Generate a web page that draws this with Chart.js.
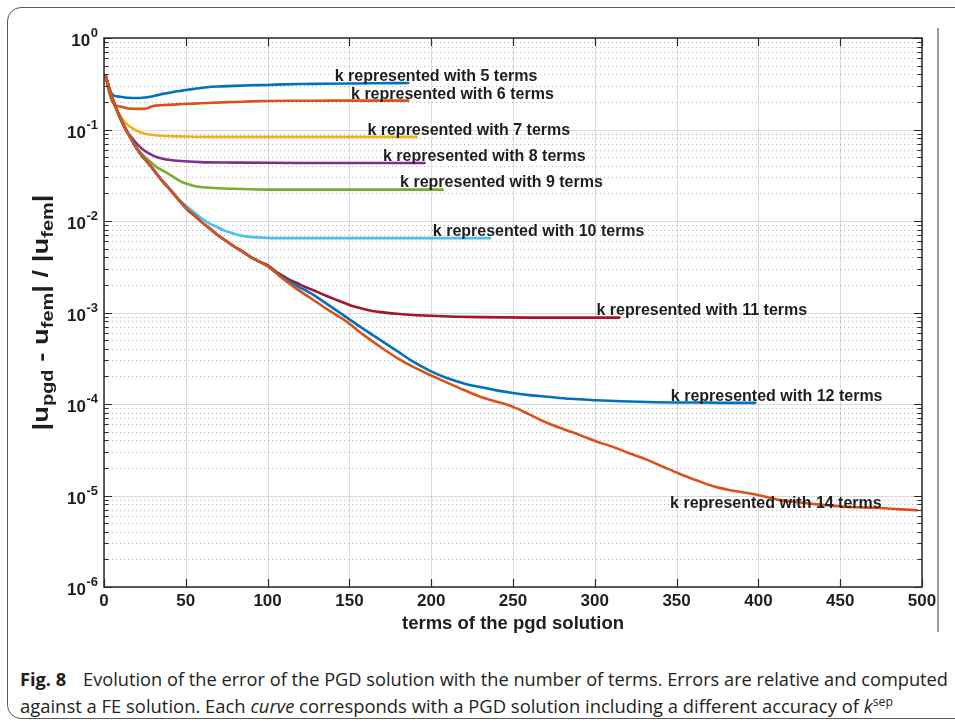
<!DOCTYPE html>
<html>
<head>
<meta charset="utf-8">
<script src="https://cdn.jsdelivr.net/npm/chart.js@4.4.1/dist/chart.umd.min.js"></script>
<style>
html,body{margin:0;padding:0;background:#fff;}
body{width:955px;height:727px;position:relative;overflow:hidden;}
#card{position:absolute;left:7px;top:7px;width:975px;height:712px;border:1.5px solid #5a5a5a;border-radius:14px;box-sizing:border-box;}
#wrap{position:absolute;left:0;top:0;width:955px;height:640px;}
#vline{position:absolute;left:937px;top:28px;width:1.5px;height:604px;background:#9a9a9a;}
.cap{position:absolute;left:20px;white-space:nowrap;display:inline-block;transform-origin:0 50%;font-family:"Open Sans","Noto Sans",sans-serif;font-size:18px;line-height:26px;color:#231f20;}
.cap b{font-weight:700;margin-right:12px;}
.cap sup{font-size:12px;line-height:0;vertical-align:7px;}
</style>
</head>
<body>
<div id="card"></div>
<div id="vline"></div>
<div id="wrap"><canvas id="c" width="955" height="640"></canvas></div>
<div class="cap" id="cap1" data-w="928" style="top:666px;"><b>Fig. 8</b> Evolution of the error of the PGD solution with the number of terms. Errors are relative and computed</div>
<div class="cap" id="cap2" data-w="873" style="top:693px;">against a FE solution. Each <i>curve</i> corresponds with a PGD solution including a different accuracy of <i>k</i><sup>sep</sup></div>
<script>
// ---------------- data ----------------
const termsTicks = [0, 50, 100, 150, 200, 250, 300, 350, 400, 450, 500];
const decadeExponents = [0, -1, -2, -3, -4, -5, -6];
const termCounts = [5, 6, 7, 8, 9, 10, 11, 12, 14];

const terms5 = [1, 3, 5.5, 10, 15, 20, 25, 28, 32, 36, 42, 48, 55, 63, 72, 80, 90, 100, 110, 120, 135, 150, 165, 186];
const error5 = [0.385, 0.29, 0.238, 0.228, 0.222, 0.221, 0.224, 0.228, 0.236, 0.245, 0.256, 0.266, 0.278, 0.29, 0.296, 0.30, 0.304, 0.307, 0.311, 0.314, 0.316, 0.318, 0.32, 0.322];

const terms6 = [1, 3, 5.5, 10, 15, 20, 25, 28, 30, 35, 42, 48, 55, 63, 72, 80, 90, 100, 120, 140, 160, 186];
const error6 = [0.385, 0.26, 0.195, 0.178, 0.17, 0.168, 0.168, 0.175, 0.181, 0.184, 0.187, 0.19, 0.192, 0.195, 0.198, 0.2, 0.203, 0.205, 0.206, 0.207, 0.207, 0.207];

const terms7 = [1, 3, 5.5, 8, 10, 13, 16, 20, 24, 30, 38, 48, 65, 100, 150, 191];
const error7 = [0.385, 0.29, 0.21, 0.165, 0.14, 0.119, 0.107, 0.097, 0.091, 0.087, 0.085, 0.084, 0.083, 0.083, 0.083, 0.083];

const terms8 = [1, 3, 5.5, 8, 11, 14, 18, 21, 24, 28, 32, 38, 45, 59, 80, 120, 160, 196];
const error8 = [0.385, 0.29, 0.21, 0.16, 0.122, 0.096, 0.077, 0.067, 0.060, 0.054, 0.050, 0.047, 0.0455, 0.044, 0.0435, 0.043, 0.043, 0.043];

const terms9 = [1, 3, 5.5, 8, 11, 14, 16, 18, 20, 22, 24, 26, 28, 32, 38.5, 44, 48, 54, 59, 70, 79, 100, 150, 207];
const error9 = [0.385, 0.29, 0.21, 0.16, 0.121, 0.095, 0.083, 0.071, 0.062, 0.057, 0.052, 0.048, 0.045, 0.039, 0.0335, 0.029, 0.0265, 0.0245, 0.0235, 0.0228, 0.0225, 0.022, 0.022, 0.022];

const terms10 = [1, 3, 5.5, 8, 11, 14, 16, 18, 20, 23, 26, 29, 32, 36, 40, 44, 48, 52, 56, 59, 64, 69, 74, 79, 84, 89, 95, 105, 120, 160, 200, 236];
const error10 = [0.385, 0.29, 0.21, 0.16, 0.121, 0.095, 0.083, 0.071, 0.062, 0.052, 0.045, 0.039, 0.033, 0.027, 0.0225, 0.0186, 0.0158, 0.0138, 0.0121, 0.0109, 0.0095, 0.0086, 0.0078, 0.0073, 0.0069, 0.0067, 0.0066, 0.0065, 0.0065, 0.0065, 0.0065, 0.0065];

const terms11 = [1, 3, 5.5, 8, 11, 14, 16, 18, 20, 23, 26, 29, 32, 36, 40, 44, 48, 52, 56, 60, 65, 70, 75, 80, 85, 90, 95, 100, 104, 108, 113, 118, 123, 128, 133, 138, 143, 148.5, 153, 158, 164, 169, 179, 189, 200, 215, 230, 260, 290, 315];
const error11 = [0.385, 0.29, 0.21, 0.16, 0.121, 0.095, 0.083, 0.071, 0.062, 0.052, 0.045, 0.039, 0.033, 0.027, 0.0225, 0.0185, 0.0152, 0.0128, 0.0112, 0.0096, 0.0082, 0.0069, 0.0060, 0.0052, 0.0046, 0.0040, 0.0036, 0.0033, 0.0029, 0.0026, 0.0023, 0.0021, 0.0019, 0.00175, 0.0016, 0.00147, 0.00135, 0.00124, 0.00116, 0.0011, 0.00104, 0.00101, 0.00097, 0.00094, 0.00092, 0.0009, 0.00089, 0.00088, 0.00088, 0.00088];

const terms12 = [1, 3, 5.5, 8, 11, 14, 16, 18, 20, 23, 26, 29, 32, 36, 40, 44, 48, 52, 56, 60, 65, 70, 75, 80, 85, 90, 95, 100, 108, 118, 128, 138, 148.5, 158, 169, 179, 189, 199, 209.6, 220, 230, 240, 250, 260, 271, 285, 301, 316, 332, 348, 364, 380, 398];
const error12 = [0.385, 0.29, 0.21, 0.16, 0.121, 0.095, 0.083, 0.071, 0.062, 0.052, 0.045, 0.039, 0.033, 0.027, 0.0225, 0.0185, 0.0152, 0.0128, 0.0112, 0.0096, 0.0082, 0.0069, 0.0060, 0.0052, 0.0046, 0.0040, 0.0036, 0.0032, 0.00252, 0.00196, 0.00156, 0.00118, 0.00088, 0.00067, 0.0005, 0.00038, 0.00029, 0.000232, 0.000192, 0.000168, 0.000153, 0.000141, 0.000132, 0.000125, 0.00012, 0.000114, 0.00011, 0.000107, 0.000105, 0.000104, 0.000104, 0.000103, 0.000103];

const terms14 = [1, 3, 5.5, 8, 11, 14, 16, 18, 20, 23, 26, 29, 32, 36, 40, 44, 48, 52, 56, 60, 65, 70, 75, 80, 85, 90, 95, 100, 108, 118, 128, 138, 148.5, 158, 169, 179, 189, 200, 210, 220, 230, 240, 250, 260, 271, 281, 291, 301, 311, 321, 332, 342, 352, 362, 372, 382, 392, 401, 413, 423, 433, 443, 454, 464, 474, 485, 497];
const error14 = [0.385, 0.29, 0.21, 0.16, 0.121, 0.095, 0.083, 0.071, 0.062, 0.052, 0.045, 0.039, 0.033, 0.027, 0.0225, 0.0185, 0.0152, 0.0128, 0.0112, 0.0096, 0.0082, 0.0069, 0.0060, 0.0052, 0.0046, 0.0040, 0.0036, 0.0032, 0.00245, 0.0018, 0.00137, 0.00104, 0.00079, 0.00058, 0.00042, 0.00032, 0.000254, 0.000205, 0.00017, 0.000142, 0.00012, 0.000106, 0.000093, 0.000077, 0.000062, 0.000053, 0.0000457, 0.000039, 0.000034, 0.000029, 0.0000245, 0.0000205, 0.0000172, 0.0000147, 0.0000127, 0.0000115, 0.0000107, 0.00001, 0.0000089, 0.0000085, 0.0000081, 0.0000078, 0.0000075, 0.0000074, 0.0000073, 0.0000071, 0.0000069];

// label anchors (data coordinates: terms, error)
const labelTerms = [141, 151, 161, 170.5, 181, 201, 301, 346.5, 346];
const labelError = [0.375, 0.238, 0.0964, 0.050, 0.026, 0.0076, 0.00104, 0.000122, 0.0000081];

// ---------------- styles ----------------
const seriesColors = ['#0072BD', '#D95319', '#EDB120', '#7E2F8E', '#77AC30', '#4DBEEE', '#A2142F', '#0072BD', '#D95319'];
const allTerms = [terms5, terms6, terms7, terms8, terms9, terms10, terms11, terms12, terms14];
const allErrors = [error5, error6, error7, error8, error9, error10, error11, error12, error14];

const FONT = '"Liberation Sans", Arial, Helvetica, sans-serif';
const INK = '#1e1e1e';

const datasets = termCounts.map((n, i) => ({
  label: 'k represented with ' + n + ' terms',
  data: allTerms[i].map((t, j) => ({x: t, y: allErrors[i][j]})),
  borderColor: seriesColors[i],
  backgroundColor: seriesColors[i],
  borderWidth: 2.6,
  pointRadius: 0,
  fill: false,
  cubicInterpolationMode: 'monotone',
  borderCapStyle: 'round',
  borderJoinStyle: 'round',
  order: termCounts.length - 1 - i
}));

const axesDecor = {
  id: 'axesDecor',
  beforeDatasetsDraw(chart) {
    const {ctx, chartArea: a} = chart;
    const xs = chart.scales.x, ys = chart.scales.y;
    ctx.save();
    // minor dotted grid
    ctx.lineWidth = 1;
    ctx.strokeStyle = 'rgba(40,40,40,0.33)';
    ctx.setLineDash([1, 3]);
    for (let d = -6; d <= -1; d++) {
      for (let k = 2; k <= 9; k++) {
        const py = Math.round(ys.getPixelForValue(k * Math.pow(10, d))) + 0.5;
        ctx.beginPath(); ctx.moveTo(a.left, py); ctx.lineTo(a.right, py); ctx.stroke();
      }
    }
    // major solid grid
    ctx.setLineDash([]);
    ctx.strokeStyle = 'rgba(38,38,38,0.16)';
    decadeExponents.forEach(e => {
      const py = Math.round(ys.getPixelForValue(Math.pow(10, e))) + 0.5;
      ctx.beginPath(); ctx.moveTo(a.left, py); ctx.lineTo(a.right, py); ctx.stroke();
    });
    termsTicks.forEach(t => {
      const px = Math.round(xs.getPixelForValue(t)) + 0.5;
      ctx.beginPath(); ctx.moveTo(px, a.top); ctx.lineTo(px, a.bottom); ctx.stroke();
    });
    ctx.restore();
  },
  afterDatasetsDraw(chart) {
    const {ctx, chartArea: a} = chart;
    const xs = chart.scales.x, ys = chart.scales.y;
    ctx.save();
    // box
    ctx.strokeStyle = '#2a2a2a';
    ctx.lineWidth = 1.5;
    ctx.strokeRect(a.left, a.top, a.right - a.left, a.bottom - a.top);
    // ticks
    ctx.lineWidth = 1.2;
    ctx.beginPath();
    termsTicks.forEach(t => {
      const px = Math.round(xs.getPixelForValue(t)) + 0.5;
      ctx.moveTo(px, a.bottom); ctx.lineTo(px, a.bottom - 8);
      ctx.moveTo(px, a.top); ctx.lineTo(px, a.top + 8);
    });
    decadeExponents.forEach(e => {
      const py = Math.round(ys.getPixelForValue(Math.pow(10, e))) + 0.5;
      ctx.moveTo(a.left, py); ctx.lineTo(a.left + 8, py);
      ctx.moveTo(a.right, py); ctx.lineTo(a.right - 8, py);
    });
    for (let d = -6; d <= -1; d++) {
      for (let k = 2; k <= 9; k++) {
        const py = Math.round(ys.getPixelForValue(k * Math.pow(10, d))) + 0.5;
        ctx.moveTo(a.left, py); ctx.lineTo(a.left + 4.5, py);
        ctx.moveTo(a.right, py); ctx.lineTo(a.right - 4.5, py);
      }
    }
    ctx.stroke();

    // y tick labels 10^e
    ctx.fillStyle = INK;
    ctx.textBaseline = 'alphabetic';
    decadeExponents.forEach(e => {
      const py = ys.getPixelForValue(Math.pow(10, e));
      const sup = String(e);
      ctx.font = 'bold 17px ' + FONT;
      const wBase = ctx.measureText('10').width;
      ctx.font = 'bold 13px ' + FONT;
      const wSup = ctx.measureText(sup).width;
      const right = 98;
      const x0 = right - wBase - wSup - 0.5;
      ctx.font = 'bold 17px ' + FONT;
      ctx.textAlign = 'left';
      ctx.fillText('10', x0, py + 8);
      ctx.font = 'bold 13px ' + FONT;
      ctx.fillText(sup, x0 + wBase + 0.5, py - 1);
    });

    // y axis title with subscripts
    const pieces = [['|u', false], ['pgd', true], [' - u', false], ['fem', true], ['| / |u', false], ['fem', true], ['|', false]];
    const mainFont = 'bold 22px ' + FONT, subFont = 'bold 16px ' + FONT;
    let total = 0;
    pieces.forEach(p => { ctx.font = p[1] ? subFont : mainFont; total += ctx.measureText(p[0]).width; });
    const targetLen = 236;
    ctx.save();
    ctx.translate(48, (a.top + a.bottom) / 2);
    ctx.rotate(-Math.PI / 2);
    ctx.scale(targetLen / total, 1);
    let cx = -total / 2;
    ctx.textAlign = 'left';
    pieces.forEach(p => {
      ctx.font = p[1] ? subFont : mainFont;
      ctx.fillText(p[0], cx, p[1] ? 5 : 0);
      cx += ctx.measureText(p[0]).width;
    });
    ctx.restore();

    // series labels
    ctx.font = 'bold 16px ' + FONT;
    ctx.fillStyle = INK;
    ctx.textAlign = 'left';
    ctx.textBaseline = 'middle';
    termCounts.forEach((n, i) => {
      const px = xs.getPixelForValue(labelTerms[i]);
      const py = ys.getPixelForValue(labelError[i]);
      ctx.fillText('k represented with ' + n + ' terms', px, py);
    });
    ctx.restore();
  }
};

new Chart(document.getElementById('c'), {
  type: 'line',
  data: {datasets},
  options: {
    responsive: false,
    animation: false,
    devicePixelRatio: 1,
    layout: {padding: {left: 0, top: 38, right: 33, bottom: 0}},
    plugins: {legend: {display: false}, tooltip: {enabled: false}},
    scales: {
      x: {
        type: 'linear', min: 0, max: 500,
        afterBuildTicks(s) { s.ticks = termsTicks.map(v => ({value: v})); },
        afterFit(s) { s.height = 53; },
        grid: {display: false, drawTicks: false},
        border: {display: false},
        ticks: {
          autoSkip: false, maxRotation: 0, padding: 4, color: INK,
          font: {family: FONT, weight: 'bold', size: 17},
          callback: v => String(v)
        },
        title: {
          display: true, text: 'terms of the pgd solution', color: INK,
          font: {family: FONT, weight: 'bold', size: 18.5},
          padding: {top: 0, bottom: 5}
        }
      },
      y: {
        type: 'logarithmic', min: 1e-6, max: 1,
        afterFit(s) { s.width = 104; },
        grid: {display: false, drawTicks: false},
        border: {display: false},
        ticks: {display: false}
      }
    }
  },
  plugins: [axesDecor]
});

// fit caption lines to the reference widths
document.querySelectorAll('.cap').forEach(el => {
  const target = +el.dataset.w;
  const w = el.getBoundingClientRect().width;
  if (w > 0) el.style.transform = 'scaleX(' + (target / w) + ')';
});
</script>
</body>
</html>
